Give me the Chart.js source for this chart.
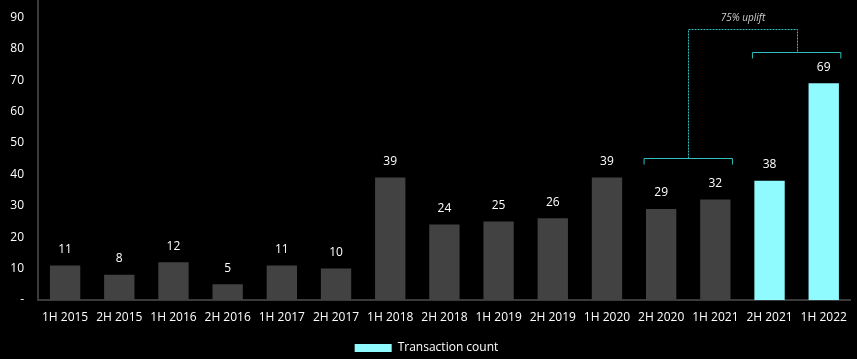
<!DOCTYPE html>
<html>
<head>
<meta charset="utf-8">
<script src="https://cdn.jsdelivr.net/npm/chart.js@4/dist/chart.umd.min.js"></script>
<style>
  html, body { margin: 0; padding: 0; background: #000; }
  #wrap { width: 857px; height: 359px; position: relative; }
</style>
</head>
<body>
<div id="wrap"><canvas id="txChart"></canvas></div>
<script>
const periods = ['1H 2015', '2H 2015', '1H 2016', '2H 2016', '1H 2017', '2H 2017', '1H 2018', '2H 2018',
                 '1H 2019', '2H 2019', '1H 2020', '2H 2020', '1H 2021', '2H 2021', '1H 2022'];
const transactionCount = [11, 8, 12, 5, 11, 10, 39, 24, 25, 26, 39, 29, 32, 38, 69];
const highlighted = [false, false, false, false, false, false, false, false,
                     false, false, false, false, false, true, true];
const yTicks = [0, 10, 20, 30, 40, 50, 60, 70, 80, 90];

// uplift comparison: two groups of periods and the level each bracket sits at
const groupBefore = ['2H 2020', '1H 2021'];
const groupAfter = ['2H 2021', '1H 2022'];
const bracketLevels = [45.3, 78.8];
const connectorLevel = 86.2;
const upliftLabel = '75% uplift';

const GREY = '#424242';
const CYAN = '#8ffbff';
const TEAL = '#2fbfbf';
const FONT = "'Open Sans', sans-serif";

const barLabels = {
    id: 'barLabels',
    afterDatasetsDraw(chart) {
        const c = chart.ctx;
        const meta = chart.getDatasetMeta(0);
        c.save();
        c.font = '12px ' + FONT;
        c.fillStyle = '#ffffff';
        c.textAlign = 'center';
        c.textBaseline = 'middle';
        meta.data.forEach((bar, i) => {
            c.fillText(transactionCount[i], bar.x, bar.y - 16);
        });
        c.restore();
    }
};

const upliftBrackets = {
    id: 'upliftBrackets',
    afterDatasetsDraw(chart) {
        const c = chart.ctx;
        const x = chart.scales.x, y = chart.scales.y;
        const half = x.width / periods.length / 2 - 10;
        const b1l = x.getPixelForValue(periods.indexOf(groupBefore[0])) - half;
        const b1r = x.getPixelForValue(periods.indexOf(groupBefore[groupBefore.length - 1])) + half;
        const b2l = x.getPixelForValue(periods.indexOf(groupAfter[0])) - half;
        const b2r = x.getPixelForValue(periods.indexOf(groupAfter[groupAfter.length - 1])) + half;
        const y1 = Math.round(y.getPixelForValue(bracketLevels[0])) + 0.5;
        const y2 = Math.round(y.getPixelForValue(bracketLevels[1])) + 0.5;
        const yc = Math.round(y.getPixelForValue(connectorLevel)) + 0.5;
        const m1 = Math.round((b1l + b1r) / 2) + 0.5;
        const m2 = Math.round((b2l + b2r) / 2) + 0.5;

        c.save();
        c.strokeStyle = TEAL;
        c.lineWidth = 1;
        [[b1l, b1r, y1], [b2l, b2r, y2]].forEach(([l, r, yy]) => {
            c.beginPath();
            c.moveTo(l, yy + 6);
            c.lineTo(l, yy);
            c.lineTo(r, yy);
            c.lineTo(r, yy + 6);
            c.stroke();
        });
        c.setLineDash([2, 1]);
        c.beginPath();
        c.moveTo(m1, y1);
        c.lineTo(m1, yc);
        c.lineTo(m2, yc);
        c.lineTo(m2, y2);
        c.stroke();
        c.setLineDash([]);
        c.fillStyle = '#cfcfcf';
        c.font = 'italic 10px ' + FONT;
        c.textAlign = 'center';
        c.textBaseline = 'middle';
        c.fillText(upliftLabel, (m1 + m2) / 2, yc - 11);
        c.restore();
    }
};

new Chart(document.getElementById('txChart'), {
    type: 'bar',
    data: {
        labels: periods,
        datasets: [{
            label: 'Transaction count',
            data: transactionCount,
            backgroundColor: highlighted.map(h => h ? CYAN : GREY),
            borderWidth: 0,
            categoryPercentage: 1.0,
            barPercentage: 0.56
        }]
    },
    options: {
        responsive: true,
        maintainAspectRatio: false,
        animation: false,
        layout: { padding: { top: 0, right: 4, left: 0, bottom: -5 } },
        scales: {
            x: {
                grid: { display: false, drawTicks: false },
                border: { color: '#3a3a3a', width: 2 },
                afterFit: axis => { axis.height = 40; },
                ticks: { color: '#ffffff', font: { family: FONT, size: 12 }, padding: 10, maxRotation: 0, autoSkip: false }
            },
            y: {
                min: 0,
                max: 95.5,
                afterBuildTicks: axis => { axis.ticks = yTicks.map(v => ({ value: v })); },
                afterFit: axis => { axis.width = 38; axis.paddingTop = 0; axis.paddingBottom = 0; },
                grid: { display: false, drawTicks: false },
                border: { color: '#3a3a3a', width: 2 },
                ticks: {
                    color: '#ffffff',
                    font: { family: FONT, size: 12 },
                    padding: 14,
                    callback: v => v === 0 ? '-' : v
                }
            }
        },
        plugins: {
            legend: {
                position: 'bottom',
                labels: {
                    color: '#ffffff',
                    font: { family: FONT, size: 12 },
                    boxWidth: 37,
                    boxHeight: 8,
                    padding: 2,
                    generateLabels: () => [{ text: 'Transaction count', fillStyle: CYAN, strokeStyle: CYAN, lineWidth: 0, fontColor: '#ffffff' }]
                }
            },
            tooltip: { enabled: false }
        }
    },
    plugins: [barLabels, upliftBrackets]
});
</script>
</body>
</html>
